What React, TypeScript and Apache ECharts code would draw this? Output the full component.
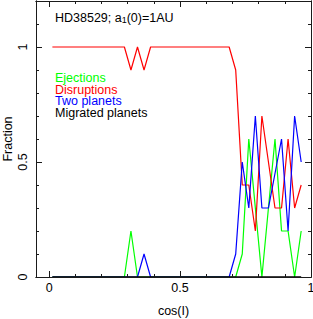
import React, { useEffect, useRef } from 'react';
import * as echarts from 'echarts';

const cosI = [
  0.0125, 0.0375, 0.0625, 0.0875, 0.1125, 0.1375, 0.1625, 0.1875, 0.2125, 0.2375,
  0.2625, 0.2875, 0.3125, 0.3375, 0.3625, 0.3875, 0.4125, 0.4375, 0.4625, 0.4875,
  0.5125, 0.5375, 0.5625, 0.5875, 0.6125, 0.6375, 0.6625, 0.6875, 0.7125, 0.7375,
  0.7625, 0.7875, 0.8125, 0.8375, 0.8625, 0.8875, 0.9125, 0.9375, 0.9625,
];

const ejections = [
  0, 0, 0, 0, 0, 0, 0, 0, 0, 0, 0, 0,
  0.2,
  0, 0, 0, 0, 0, 0, 0, 0, 0, 0, 0, 0, 0, 0, 0, 0,
  0.1, 0.6, 0.3, 0, 0.3, 0.6, 0.2, 0.2, 0, 0.2,
];

const disruptions = [
  1, 1, 1, 1, 1, 1, 1, 1, 1, 1, 1, 1,
  0.9, 1, 0.9,
  1, 1, 1, 1, 1, 1, 1, 1, 1, 1, 1, 1, 1,
  0.9, 0.4, 0.4, 0.2, 0.7, 0.5, 0.3, 0.3, 0.6, 0.3, 0.4,
];

const twoPlanets = [
  0, 0, 0, 0, 0, 0, 0, 0, 0, 0, 0, 0, 0, 0,
  0.1,
  0, 0, 0, 0, 0, 0, 0, 0, 0, 0, 0, 0, 0,
  0.1, 0.5, 0.3, 0.7, 0.3, 0.3, 0.45, 0.6, 0.2, 0.7, 0.5,
];

const migrated = [
  0, 0, 0, 0, 0, 0, 0, 0, 0, 0, 0, 0, 0, 0, 0, 0, 0, 0, 0, 0,
  0, 0, 0, 0, 0, 0, 0, 0, 0, 0, 0, 0, 0, 0, 0, 0, 0, 0, 0,
];

const xMajorTicks = [0, 0.5, 1];
const xMinorTicks = [0.1, 0.2, 0.3, 0.4, 0.6, 0.7, 0.8, 0.9];
const yMajorTicks = [0, 0.5, 1];
const yMinorTicks = [0.1, 0.2, 0.3, 0.4, 0.6, 0.7, 0.8, 0.9, 1.1];

const seriesNames = ['Ejections', 'Disruptions', 'Two planets', 'Migrated planets'];
const seriesColors = ['#00ff00', '#ff0000', '#0000ff', '#000000'];
const seriesValues = [ejections, disruptions, twoPlanets, migrated];

const FONT = '"Liberation Sans", Arial, Helvetica, sans-serif';
const AX = '#1a1a1a';

function xAxisDef(position: string, ticks: number[], len: number, withLabels: boolean) {
  const ax: any = {
    type: 'value',
    position,
    min: -0.05,
    max: 1,
    z: 5,
    axisLine: { show: true, onZero: false, lineStyle: { color: AX, width: 1 } },
    axisTick: { show: true, inside: true, length: len, customValues: ticks, lineStyle: { color: AX, width: 1 } },
    axisLabel: { show: false },
    splitLine: { show: false },
  };
  if (withLabels) {
    ax.axisLabel = {
      show: true,
      customValues: xMajorTicks,
      margin: 4,
      fontSize: 12.5,
      fontFamily: FONT,
      color: '#000',
    };
    ax.name = 'cos(I)';
    ax.nameLocation = 'middle';
    ax.nameGap = 27;
    ax.nameMoveOverlap = false;
    ax.nameTextStyle = { fontSize: 12.5, fontFamily: FONT, color: '#000' };
  }
  return ax;
}

function yAxisDef(position: string, ticks: number[], len: number, withLabels: boolean) {
  const ax: any = {
    type: 'value',
    position,
    min: 0,
    max: 1.2,
    z: 5,
    axisLine: { show: true, onZero: false, lineStyle: { color: AX, width: 1 } },
    axisTick: { show: true, inside: true, length: len, customValues: ticks, lineStyle: { color: AX, width: 1 } },
    axisLabel: { show: false },
    splitLine: { show: false },
  };
  if (withLabels) {
    ax.axisLabel = {
      show: true,
      customValues: yMajorTicks,
      rotate: 90,
      margin: 7,
      fontSize: 12.5,
      fontFamily: FONT,
      color: '#000',
    };
  }
  return ax;
}

export default function App() {
  const ref = useRef<HTMLDivElement>(null);

  useEffect(() => {
    document.body.style.margin = '0';
    if (!ref.current) return;
    const chart = echarts.init(ref.current, null, { renderer: 'svg' });

    const legendY = [78, 89.5, 101, 112.5];

    const option: any = {
      animation: false,
      backgroundColor: '#ffffff',
      grid: { left: 36, right: 2, top: 1, bottom: 42, containLabel: false, outerBoundsMode: 'none' },
      xAxis: [
        xAxisDef('bottom', xMajorTicks, 6, true),
        xAxisDef('bottom', xMinorTicks, 3, false),
        xAxisDef('top', xMajorTicks, 6, false),
        xAxisDef('top', xMinorTicks, 3, false),
      ],
      yAxis: [
        yAxisDef('left', yMajorTicks, 6, true),
        yAxisDef('left', yMinorTicks, 3, false),
        yAxisDef('right', yMajorTicks, 6, false),
        yAxisDef('right', yMinorTicks, 3, false),
      ],
      series: seriesNames.map((name, i) => ({
        name,
        type: 'line',
        xAxisIndex: 0,
        yAxisIndex: 0,
        data: cosI.map((x, k) => [x, seriesValues[i][k]]),
        showSymbol: false,
        symbol: 'none',
        z: i === 3 ? 4 : 2,
        lineStyle: { color: seriesColors[i], width: i === 3 ? 1.5 : 1.2 },
        itemStyle: { color: seriesColors[i] },
        clip: false,
      })),
      graphic: [
        {
          type: 'text',
          x: 8,
          y: 139,
          rotation: Math.PI / 2,
          style: {
            text: 'Fraction',
            fontSize: 12.5,
            fontFamily: FONT,
            fill: '#000',
            align: 'center',
            verticalAlign: 'middle',
          },
        },
        {
          type: 'text',
          x: 55,
          y: 9,
          style: {
            text: '{n|HD38529; a}{s|1}{n|(0)=1AU}',
            verticalAlign: 'top',
            fill: '#000',
            rich: {
              n: { fontSize: 12.5, fontFamily: FONT, lineHeight: 15, verticalAlign: 'bottom', fill: '#000' },
              s: { fontSize: 9, fontFamily: FONT, lineHeight: 9, verticalAlign: 'bottom', fill: '#000' },
            },
          },
        },
        ...seriesNames.map((name, i) => ({
          type: 'text',
          x: 55,
          y: legendY[i],
          style: {
            text: name,
            fontSize: 12.5,
            lineHeight: 11,
            fontFamily: FONT,
            fill: seriesColors[i],
            verticalAlign: 'middle',
          },
        })),
      ],
    };

    chart.setOption(option);
    return () => {
      chart.dispose();
    };
  }, []);

  return <div ref={ref} style={{ width: 313, height: 319 }} />;
}
